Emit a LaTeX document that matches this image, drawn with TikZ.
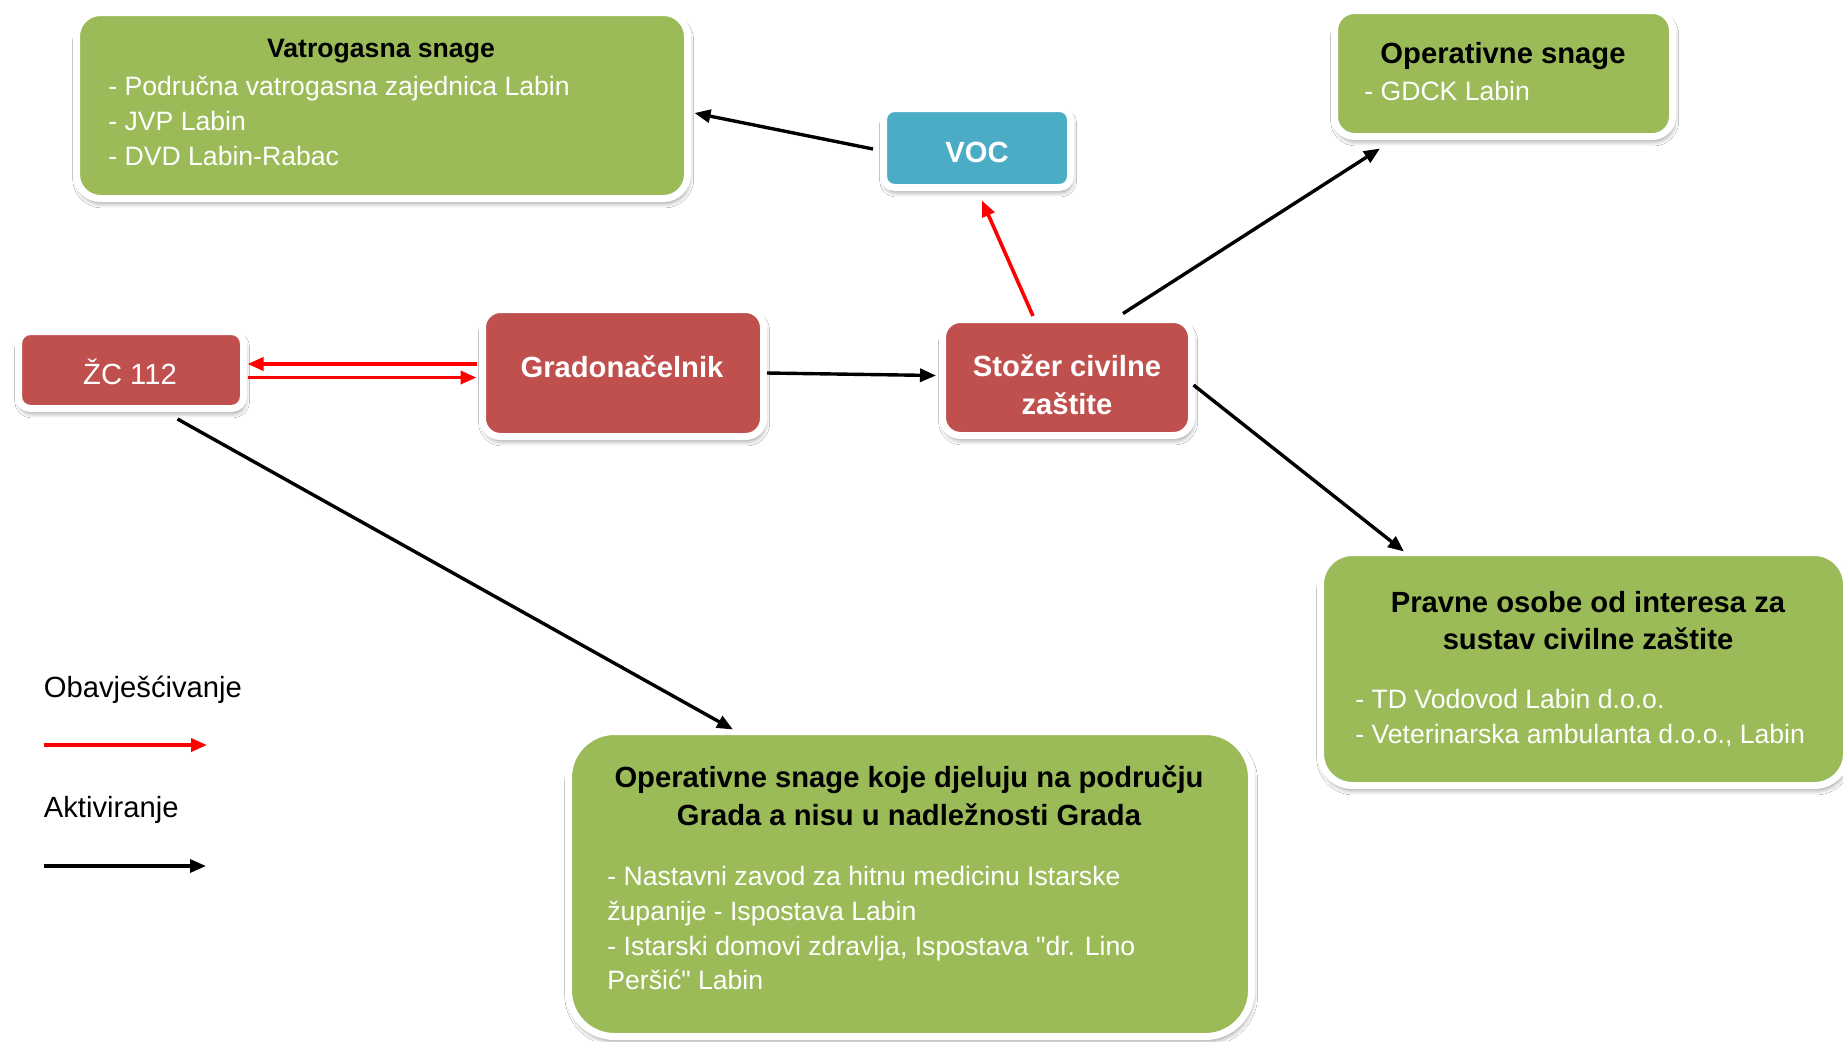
\documentclass[tikz,border=0pt]{standalone}
\usepackage{fontspec}
\setmainfont{Liberation Sans}[Ligatures=TeXOff]
\usetikzlibrary{arrows.meta,calc,shadows.blur}
\definecolor{boxgreen}{HTML}{9BBB59}
\definecolor{boxred}{HTML}{C0504D}
\definecolor{boxblue}{HTML}{4BACC6}
\begin{document}
\begin{tikzpicture}[x=0.5pt,y=-0.5pt,
  panel/.style={draw=white, line width=3.5pt, inner sep=0pt,
    blur shadow={shadow xshift=0.6pt, shadow yshift=-2.2pt, shadow blur radius=2.5pt, shadow blur steps=6, shadow opacity=45}},
  txt/.style={inner sep=0pt, font=\fontsize{13.3pt}{17.6pt}\selectfont},
  txtb/.style={inner sep=0pt, font=\fontsize{13.3pt}{17.6pt}\selectfont\bfseries},
  big/.style={inner sep=0pt, font=\fontsize{14.6pt}{19pt}\selectfont},
  bigb/.style={inner sep=0pt, font=\fontsize{14.6pt}{19pt}\selectfont\bfseries},
  act/.style={draw=black, line width=1.7pt, -{Triangle[length=8pt,width=6.5pt]}},
  notif/.style={draw=red, line width=1.8pt, -{Triangle[length=8pt,width=6.5pt]}}]
\fill[white] (0,0) rectangle (1843,1041);
\useasboundingbox (0,0) rectangle (1843,1041);

% boxes
\node[panel, fill=boxgreen, rounded corners=12pt, minimum width=305.5pt, minimum height=93pt] (vat) at (382,105.5) {};
\node[panel, fill=boxgreen, rounded corners=10pt, minimum width=169pt, minimum height=63pt] (ops) at (1503.5,73.5) {};
\node[panel, fill=boxblue, rounded corners=5.5pt, minimum width=93.5pt, minimum height=39.5pt] (voc) at (977,148) {};
\node[panel, fill=boxred, rounded corners=6pt, minimum width=112.5pt, minimum height=38.5pt] (zc) at (131,370) {};
\node[panel, fill=boxred, rounded corners=9pt, minimum width=140.5pt, minimum height=63.5pt] (grad) at (623,373) {};
\node[panel, fill=boxred, rounded corners=9pt, minimum width=124.5pt, minimum height=58pt] (stoz) at (1067,377.5) {};
\node[panel, fill=boxgreen, rounded corners=16pt, minimum width=263pt, minimum height=116.5pt] (prav) at (1583.5,669) {};
\node[panel, fill=boxgreen, rounded corners=23pt, minimum width=341.5pt, minimum height=152.5pt] (opb) at (910,884) {};

% texts: Vatrogasna
\node[txtb, anchor=base] (vatT) at (381,57) {Vatrogasna snage};
\node[txt, anchor=base west, text=white] (vat1) at (108,95) {- Područna vatrogasna zajednica Labin};
\node[txt, anchor=base west, text=white] (vat2) at (108,130) {- JVP Labin};
\node[txt, anchor=base west, text=white] (vat3) at (108,165) {- DVD Labin-Rabac};

% Operativne snage (top)
\node[bigb, anchor=base] (opsT) at (1503,63) {Operativne snage};
\node[txt, anchor=base west, text=white] (ops1) at (1364,100) {- GDCK Labin};

% VOC, ZC, Grad, Stozer
\node[bigb, anchor=base, text=white] (vocT) at (977,162.5) {VOC};
\node[big, anchor=base, text=white] (zcT) at (130,384) {ŽC 112};
\node[bigb, anchor=base, text=white] (gradT) at (622,377) {Gradonačelnik};
\node[bigb, anchor=base, text=white] (stozT1) at (1067,376) {Stožer civilne};
\node[bigb, anchor=base, text=white] (stozT2) at (1067,414) {zaštite};

% Pravne osobe
\node[bigb, anchor=base] (pravT1) at (1588,612) {Pravne osobe od interesa za};
\node[bigb, anchor=base] (pravT2) at (1588,649) {sustav civilne zaštite};
\node[txt, anchor=base west, text=white] (prav1) at (1355,708) {- TD Vodovod Labin d.o.o.};
\node[txt, anchor=base west, text=white] (prav2) at (1355,743) {- Veterinarska ambulanta d.o.o., Labin};

% Bottom box
\node[bigb, anchor=base] (opbT1) at (909,787) {Operativne snage koje djeluju na području};
\node[bigb, anchor=base] (opbT2) at (909,825) {Grada a nisu u nadležnosti Grada};
\node[txt, anchor=base west, text=white] (opb1) at (607,885) {- Nastavni zavod za hitnu medicinu Istarske};
\node[txt, anchor=base west, text=white] (opb2) at (607,920) {županije - Ispostava Labin};
\node[txt, anchor=base west, text=white] (opb3) at (607,955) {- Istarski domovi zdravlja, Ispostava "dr. Lino};
\node[txt, anchor=base west, text=white] (opb4) at (607,989) {Peršić" Labin};

% Legend
\node[big, anchor=base west] (lgT1) at (43.5,697) {Obavješćivanje};
\node[big, anchor=base west] (lgT2) at (43.5,817) {Aktiviranje};
\coordinate (lg1) at (43.5,745);
\coordinate (lg2) at (207,745);
\coordinate (lg3) at (43.5,866);
\coordinate (lg4) at (206,866);
\draw[notif] (lg1) -- (lg2);
\draw[act] (lg3) -- (lg4);

% connectors
\draw[act] ($(voc.west)+(-7,1)$) -- ($(vat.east)+(3.5,7.5)$);
\draw[notif] ($(stoz.north)+(-34,0)$) -- ($(voc.south)+(5,9.5)$);
\draw[act] ($(stoz.north)+(56,-2.5)$) -- ($(ops.south)+(-123.5,8.5)$);
\draw[act] ($(stoz.east)+(-1.5,7.5)$) -- ($(prav.north)+(-179.5,2.5)$);
\draw[act] (grad.east) -- ($(stoz.west)+(-3,-2)$);
\draw[notif] ($(grad.west)+(-2.5,-9)$) -- ($(zc.east)+(0.5,-6)$);
\draw[notif] ($(zc.east)+(0.5,7.5)$) -- ($(grad.west)+(-2.5,4.5)$);
\draw[act] ($(zc.south)+(46.5,7)$) -- ($(opb.north)+(-177,1.5)$);
\end{tikzpicture}
\end{document}
